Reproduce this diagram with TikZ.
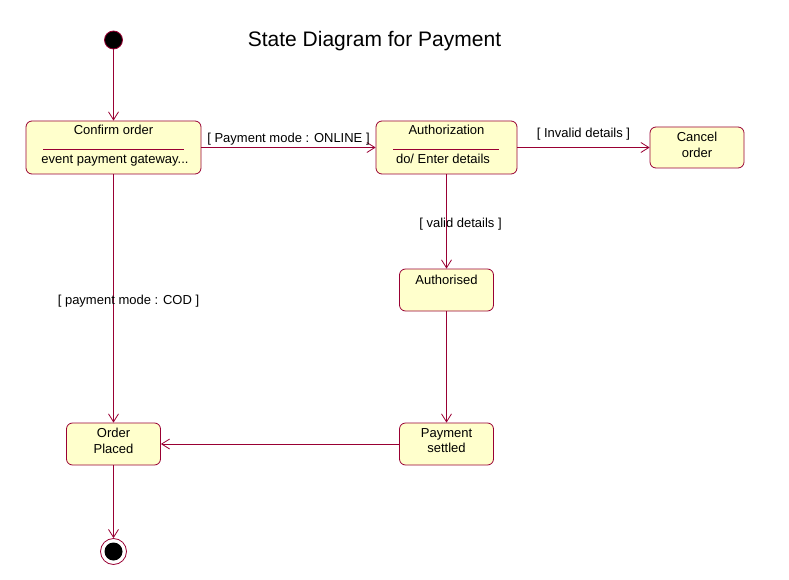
\documentclass[tikz,border=0pt]{standalone}
\usepackage{fontspec}
\setmainfont{Liberation Sans}
\usetikzlibrary{arrows.meta,positioning}

\definecolor{umlline}{RGB}{153,0,51}
\definecolor{umlfill}{RGB}{255,255,204}

\begin{document}
\begin{tikzpicture}[
            x = 1pt, y = -1pt, % pixel grid, y pointing down
            > = {Straight Barb[length=8pt,width=10pt]}, % open arrow head
            font = \fontsize{13}{15.5}\selectfont,
            line width = 0.8pt,
            umlstate/.style = {draw=umlline, fill=umlfill, rounded corners=6pt,
                               minimum width=94pt, minimum height=42pt, inner sep=0pt},
            trans/.style = {->, draw=umlline},
            guard/.style = {text=black, inner sep=2pt}
        ]

	\useasboundingbox (0,0) rectangle (789,580);

	\node (title) at (374.5,41) {\fontsize{21}{25}\selectfont State Diagram for Payment};

	% start and end
	\node[circle, fill=black, draw=umlline, minimum size=18pt, inner sep=0pt] (start) at (113.5,40) {};
	\node[circle, draw=umlline, fill=white, minimum size=26pt, inner sep=0pt] (stop) at (113.5,551.5) {};
	\fill[black] (stop) circle (9pt);

	% states
	\node[umlstate, minimum width=175pt, minimum height=53pt] (confirm) at (113.5,147.5) {};
	\node[anchor=base] (confirmname) at (113.5,135) {Confirm order};
	\draw[umlline] (43,149) -- (184,149);
	\node[anchor=base] (confirmdo) at (115,164) {event payment gateway...};

	\node[umlstate, minimum width=141pt, minimum height=53pt] (auth) at (446.5,147.5) {};
	\node[anchor=base] (authname) at (446.5,135) {Authorization};
	\draw[umlline] (393,149) -- (499,149);
	\node[anchor=base] (authdo) at (443,164) {do/ Enter details};

	\node[umlstate, minimum height=41pt] (cancel) at (697,147.5) {};
	\node[align=center] (cancelname) at (697,145) {Cancel\\order};

	\node[umlstate] (authorised) at (446.5,290) {};
	\node[anchor=base] (authorisedname) at (446.5,284) {Authorised};

	\node[umlstate] (settled) at (446.5,444) {};
	\node[align=center] (settledname) at (446.5,440.5) {Payment\\settled};

	\node[umlstate] (placed) at (113.5,444) {};
	\node[align=center] (placedname) at (113.5,441) {Order\\Placed};

	% transitions
	\draw[trans] (start) -- (confirm);
	\draw[trans] (confirm) -- (auth) node[guard, midway, above] {[ Payment mode : ONLINE ]};
	\draw[trans] (auth) -- (cancel) node[guard, midway, above=5pt] {[ Invalid details ]};
	\draw[trans] (auth) -- (authorised) node[guard, midway, xshift=14pt, yshift=-3pt] {[ valid details ]};
	\draw[trans] (confirm) -- (placed) node[guard, midway, xshift=15pt, yshift=-3pt] {[ payment mode : COD ]};
	\draw[trans] (authorised) -- (settled);
	\draw[trans] (settled) -- (placed);
	\draw[trans] (placed) -- (stop);

\end{tikzpicture}
\end{document}
